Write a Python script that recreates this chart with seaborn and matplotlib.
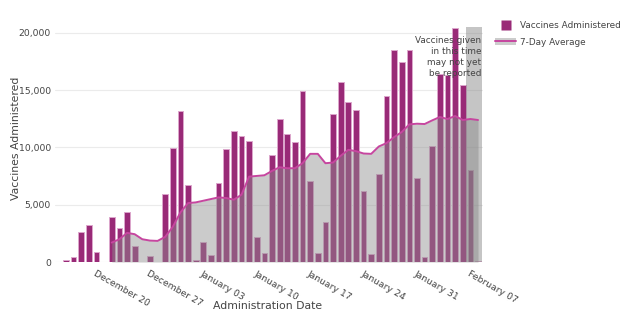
import numpy as np
import pandas as pd
import matplotlib
matplotlib.use("Agg")
import matplotlib.pyplot as plt
import matplotlib.transforms as mtransforms
import seaborn as sns
from matplotlib.patches import Patch, Rectangle
from matplotlib.lines import Line2D

dates = pd.date_range("2020-12-16", "2021-02-08", freq="D")
vaccines = [150, 450, 2630, 3245, 906, 30, 3890, 3010, 4386, 1374, 0, 526, 0, 5965, 9912, 13216,
            6754, 160, 1754, 643, 6930, 9854, 11462, 10965, 10526, 2193, 819, 9386, 12485, 11140,
            10439, 14912, 7105, 819, 3450, 12924, 15700, 13947, 13304, 6228, 702, 7690, 14503,
            18480, 17427, 18480, 7310,
            468, 10146, 16404, 16316, 20468, 15439, 8012, 90]
avg_start = "2020-12-22"
avg7 = [1696, 1988, 2544, 2427, 1988, 1871, 1842, 2193, 3070, 4327,
        5146, 5205, 5351, 5497, 5643, 5585, 5439, 5877, 7456, 7515, 7573, 7953, 8275, 8187,
        8187, 8626, 9444, 9444, 8626, 8684, 9270, 9795, 9678, 9474, 9444, 10088, 10380, 10906,
        11345, 12018, 12076,
        12047, 12368, 12661, 12485, 12749, 12398, 12485, 12398]
tick_dates = ["2020-12-20", "2020-12-27", "2021-01-03", "2021-01-10", "2021-01-17",
              "2021-01-24", "2021-01-31", "2021-02-07"]
tick_labels = ["December 20", "December 27", "January 03", "January 10", "January 17",
               "January 24", "January 31", "February 07"]
unreported_start = "2021-02-07"
note = "Vaccines given\nin this time\nmay not yet\nbe reported"

df = pd.DataFrame({"date": dates.strftime("%Y-%m-%d"), "vaccines": vaccines})
pos = {d: i for i, d in enumerate(df["date"])}

sns.set_style("white")
plt.rcParams["font.family"] = ["DejaVu Sans"]
txt = "#444444"
purple = "#992a77"
pink = "#c6469f"

fig = plt.figure(figsize=(6.28, 3.22), dpi=100)
ax = fig.add_axes([55 / 628, 1 - 262 / 322, 428 / 628, 240.5 / 322])

sns.barplot(data=df, x="date", y="vaccines", color=purple, saturation=1,
            width=0.75, edgecolor="#dca6cc", linewidth=0.7, ax=ax, zorder=2)

i0 = pos[avg_start]
xs = np.arange(i0, i0 + len(avg7))
ax.fill_between(xs, 0, avg7, color=(0.55, 0.55, 0.55, 0.45), linewidth=0, zorder=3)
ax.plot(xs, avg7, color=pink, lw=1.4, zorder=4)

r0 = pos[unreported_start] - 0.6
ax.add_patch(Rectangle((r0, 0), len(df) - 0.5 - r0, 20550,
                       facecolor=(0.5, 0.5, 0.5, 0.45), edgecolor="none", zorder=3.5))
ax.text(len(df) - 0.55, 19750, note, ha="right", va="top", fontsize=6.4,
        color=txt, linespacing=1.3, zorder=6)

ax.set_xlim(-1.44, len(df) - 0.35)
ax.set_ylim(0, 21000)
ax.set_xticks([pos[d] for d in tick_dates])
ax.set_xticklabels(tick_labels, rotation=-30, ha="left", va="top",
                   rotation_mode="anchor", fontsize=6.7, color=txt)
ax.set_yticks([0, 5000, 10000, 15000, 20000])
ax.set_yticklabels(["0", "5,000", "10,000", "15,000", "20,000"], fontsize=6.7, color=txt)
ax.tick_params(axis="both", length=0, pad=3)
ax.tick_params(axis="x", pad=5)
ax.grid(axis="y", color="#ebebeb", lw=0.8, zorder=0)
ax.set_axisbelow(True)
for s in ax.spines.values():
    s.set_visible(False)
ax.set_xlabel("Administration Date", fontsize=7.8, color=txt)
ax.set_ylabel("Vaccines Administered", fontsize=7.8, color=txt)
ax.xaxis.set_label_coords((268 - 55) / 428, (262 - 301) / 240.5)
ax.yaxis.set_label_coords((21 - 55) / 428, (262 - 138) / 240.5)

h1 = Line2D([], [], linestyle="none", marker="s", markersize=6.5,
            markerfacecolor=purple, markeredgecolor="none")
h2 = (Patch(facecolor="#cccccc", edgecolor="none"), Line2D([], [], color=pink, lw=1.4))
fig.legend([h1, h2], ["Vaccines Administered", "7-Day Average"], loc="upper left",
           bbox_to_anchor=(495 / 628, 1 - 21 / 322), frameon=False, fontsize=6.4,
           labelcolor=txt, handlelength=2.4, handleheight=0.9, handletextpad=0.45,
           labelspacing=0.85, borderaxespad=0, borderpad=0)

fig.savefig("out.png", dpi=100)
